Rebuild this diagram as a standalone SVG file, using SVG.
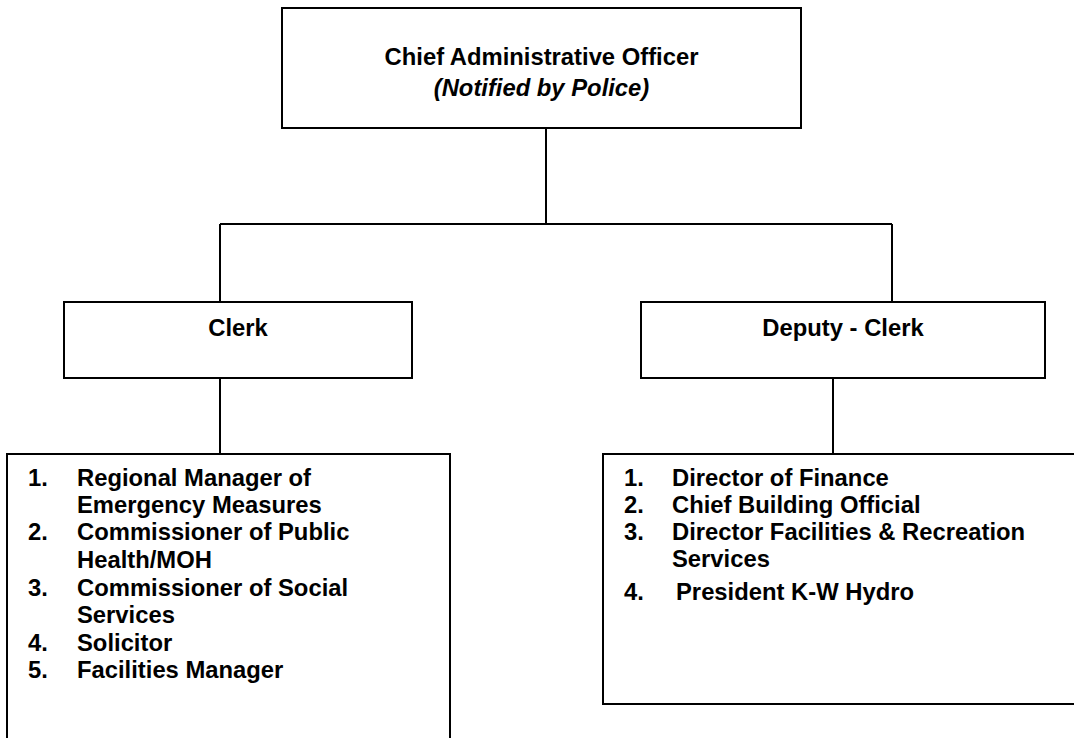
<svg xmlns="http://www.w3.org/2000/svg" width="1074" height="738" viewBox="0 0 1074 738">
<style>
.box{fill:#fff;stroke:#000;stroke-width:2}
.con{fill:none;stroke:#000;stroke-width:2}
text{font-family:"Liberation Sans",Arial,sans-serif;font-weight:bold;font-size:23.8px;fill:#000}
.c{text-anchor:middle}
.i{font-style:italic}
</style>
<rect width="1074" height="738" fill="#fff"/>
<g id="connectors">
<path class="con" d="M546 128V224M220 224H892M220 224V302M892 224V302M220 378V454M833 378V454"/>
</g>
<g id="cao">
<rect class="box" x="282" y="8" width="519" height="120"/>
<text class="c" x="541.5" y="65">Chief Administrative Officer</text>
<text class="c i" x="541.5" y="96">(Notified by Police)</text>
</g>
<g id="clerk">
<rect class="box" x="64" y="302" width="348" height="76"/>
<text class="c" x="238" y="336">Clerk</text>
</g>
<g id="deputy-clerk">
<rect class="box" x="641" y="302" width="404" height="76"/>
<text class="c" x="843" y="336">Deputy - Clerk</text>
</g>
<g id="clerk-list">
<rect class="box" x="7" y="454" width="443" height="300"/>
<text x="28" y="486">1.</text><text x="77" y="486">Regional Manager of</text>
<text x="77" y="513">Emergency Measures</text>
<text x="28" y="540">2.</text><text x="77" y="540">Commissioner of Public</text>
<text x="77" y="568">Health/MOH</text>
<text x="28" y="596">3.</text><text x="77" y="596">Commissioner of Social</text>
<text x="77" y="623">Services</text>
<text x="28" y="651">4.</text><text x="77" y="651">Solicitor</text>
<text x="28" y="678">5.</text><text x="77" y="678">Facilities Manager</text>
</g>
<g id="deputy-list">
<rect class="box" x="603" y="454" width="480" height="250"/>
<text x="624" y="486">1.</text><text x="672" y="486">Director of Finance</text>
<text x="624" y="513">2.</text><text x="672" y="513">Chief Building Official</text>
<text x="624" y="540">3.</text><text x="672" y="540">Director Facilities &amp; Recreation</text>
<text x="672" y="567">Services</text>
<text x="624" y="600">4.</text><text x="676" y="600">President K-W Hydro</text>
</g>
</svg>
